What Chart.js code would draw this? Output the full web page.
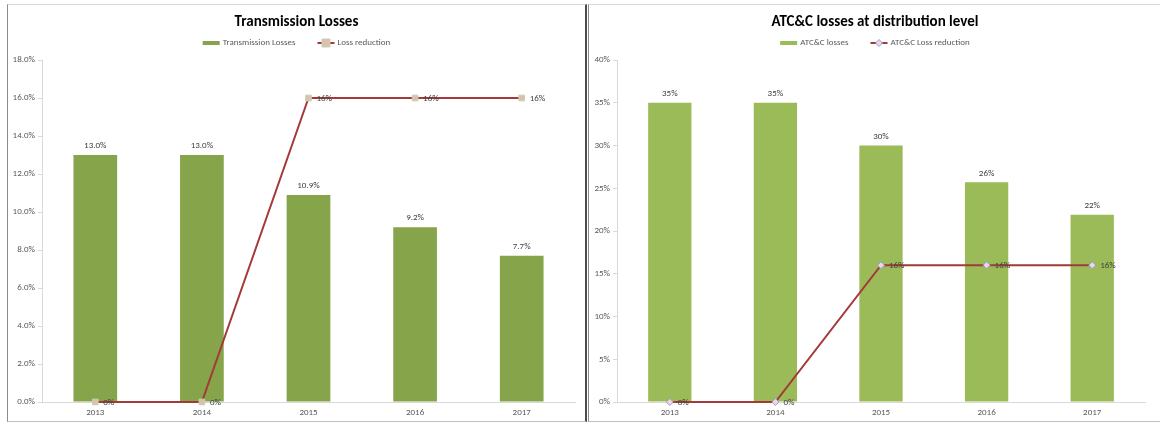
<!DOCTYPE html>
<html>
<head>
<meta charset="utf-8">
<script src="https://cdn.jsdelivr.net/npm/chart.js@4/dist/chart.umd.min.js"></script>
<style>
    html, body { margin: 0; padding: 0; background: #fff; }
    body { width: 1160px; height: 423px; position: relative; overflow: hidden; }
    .panel { position: absolute; top: 4px; height: 416px; background: #fff;
             border-top: 1px solid #d9d9d9; border-bottom: 1px solid #bfbfbf; }
    #left { left: 7px; width: 577px; border-left: 1px solid #8c8c8c; border-right: 2px solid #4d4d4d; }
    #right { left: 588px; width: 572px; border-left: 1px solid #8c8c8c; }
    canvas { display: block; }
</style>
</head>
<body>
<div class="panel" id="left"><canvas id="transChart"></canvas></div>
<div class="panel" id="right"><canvas id="atcChart"></canvas></div>

<script>
// 数据
const years = ['2013', '2014', '2015', '2016', '2017'];
const transmissionLosses = [13.0, 13.0, 10.9, 9.2, 7.7];
const lossReduction = [0, 0, 16, 16, 16];
const atcLosses = [35, 35, 30, 25.7, 21.9];
const atcLossReduction = [0, 0, 16, 16, 16];

const transAxis = { max: 18, step: 2 };
const atcAxis = { max: 40, step: 5 };

const FONT = "Carlito, 'Liberation Sans Narrow', 'Liberation Sans', sans-serif";
const TEXT = '#595959';

// 标题与图例
const headerPlugin = {
    id: 'header',
    afterDraw(chart, args, opts) {
        const ctx = chart.ctx;
        const cx = chart.width / 2;
        ctx.save();
        ctx.fillStyle = '#000';
        ctx.font = 'bold 15px ' + FONT;
        ctx.textAlign = 'center';
        ctx.textBaseline = 'middle';
        ctx.fillText(opts.title, cx, 17);

        // 图例：柱在前，折线在后
        ctx.font = '9px ' + FONT;
        ctx.textAlign = 'left';
        const sw = 17, gap = 3, between = 22;
        const items = chart.data.datasets
            .slice()
            .sort((a, b) => b.order - a.order)
            .map(ds => ({ ds, w: sw + gap + ctx.measureText(ds.label).width }));
        const total = items.reduce((s, it) => s + it.w, 0) + between * (items.length - 1);
        let x = cx - total / 2;
        const y = 38;
        items.forEach(({ ds, w }) => {
            if (ds.type === 'line') {
                ctx.strokeStyle = ds.borderColor;
                ctx.lineWidth = 2;
                ctx.beginPath();
                ctx.moveTo(x, y);
                ctx.lineTo(x + sw, y);
                ctx.stroke();
                drawMarker(ctx, ds, x + sw / 2, y);
            } else {
                ctx.fillStyle = ds.backgroundColor;
                ctx.fillRect(x, y - 2, sw, 4);
            }
            ctx.fillStyle = TEXT;
            ctx.fillText(ds.label, x + sw + gap, y);
            x += w + between;
        });
        ctx.restore();
    }
};

function drawMarker(ctx, ds, x, y) {
    ctx.save();
    ctx.fillStyle = ds.pointBackgroundColor;
    ctx.strokeStyle = ds.pointBorderColor;
    ctx.lineWidth = 1;
    const r = ds.pointRadius;
    ctx.beginPath();
    if (ds.pointStyle === 'rectRot') {
        ctx.moveTo(x, y - r); ctx.lineTo(x + r, y); ctx.lineTo(x, y + r); ctx.lineTo(x - r, y);
        ctx.closePath();
    } else {
        ctx.rect(x - r, y - r, r * 2, r * 2);
    }
    ctx.fill();
    ctx.stroke();
    ctx.restore();
}

// 数据标签
const valueLabelPlugin = {
    id: 'valueLabels',
    afterDatasetsDraw(chart) {
        const ctx = chart.ctx;
        ctx.save();
        ctx.font = '9px ' + FONT;
        ctx.fillStyle = '#404040';
        ctx.textBaseline = 'middle';
        chart.data.datasets.forEach((ds, i) => {
            const meta = chart.getDatasetMeta(i);
            meta.data.forEach((el, j) => {
                const txt = ds.labelFmt(ds.data[j]);
                if (ds.type === 'line') {
                    ctx.textAlign = 'left';
                    ctx.fillText(txt, el.x + 8, el.y + 1);
                } else {
                    ctx.textAlign = 'center';
                    ctx.fillText(txt, el.x, el.y - 9);
                }
            });
        });
        ctx.restore();
    }
};

function makeChart(id, opts) {
    const ctx = document.getElementById(id).getContext('2d');
    return new Chart(ctx, {
        data: {
            labels: years,
            datasets: [{
                type: 'line',
                label: opts.lineLabel,
                data: opts.lineData,
                borderColor: '#a33a38',
                borderWidth: 2,
                pointStyle: opts.pointStyle,
                pointRadius: opts.pointRadius,
                pointBackgroundColor: opts.pointFill,
                pointBorderColor: opts.pointBorder,
                pointBorderWidth: 1,
                tension: 0,
                clip: false,
                order: 0,
                labelFmt: v => v.toFixed(0) + '%'
            }, {
                type: 'bar',
                label: opts.barLabel,
                data: opts.barData,
                backgroundColor: opts.barColor,
                barPercentage: 0.41,
                categoryPercentage: 1,
                order: 1,
                labelFmt: opts.barFmt
            }]
        },
        options: {
            responsive: false,
            animation: false,
            layout: { padding: { left: 0, right: opts.padRight, top: 55, bottom: 0 } },
            plugins: {
                legend: { display: false },
                tooltip: { enabled: false },
                header: { title: opts.title }
            },
            scales: {
                x: {
                    grid: { display: false, drawTicks: false },
                    border: { color: '#d9d9d9', width: 1 },
                    ticks: { color: TEXT, font: { family: FONT, size: 9 }, padding: 5, maxRotation: 0 },
                    afterFit: s => { s.height = 19; }
                },
                y: {
                    min: 0,
                    max: opts.axis.max,
                    grid: { drawOnChartArea: false, drawTicks: true, tickLength: 4, color: '#d9d9d9' },
                    border: { color: '#d9d9d9', width: 1 },
                    ticks: {
                        stepSize: opts.axis.step,
                        color: TEXT,
                        font: { family: FONT, size: 9 },
                        padding: 3,
                        callback: opts.tickFmt
                    },
                    afterFit: s => { s.width = opts.axisWidth; }
                }
            }
        },
        plugins: [headerPlugin, valueLabelPlugin]
    });
}

document.addEventListener('DOMContentLoaded', () => {
    const tc = document.getElementById('transChart');
    tc.width = 577; tc.height = 416;
    const ac = document.getElementById('atcChart');
    ac.width = 572; ac.height = 416;

    makeChart('transChart', {
        title: 'Transmission Losses',
        barLabel: 'Transmission Losses',
        lineLabel: 'Loss reduction',
        barData: transmissionLosses,
        lineData: lossReduction,
        barColor: '#86a44a',
        pointStyle: 'rect',
        pointRadius: 4,
        pointFill: '#dcbfb2',
        pointBorder: '#c8d2ae',
        axis: transAxis,
        axisWidth: 34,
        padRight: 10,
        tickFmt: v => v.toFixed(1) + '%',
        barFmt: v => v.toFixed(1) + '%'
    });

    makeChart('atcChart', {
        title: 'ATC&C losses at distribution level',
        barLabel: 'ATC&C losses',
        lineLabel: 'ATC&C Loss reduction',
        barData: atcLosses,
        lineData: atcLossReduction,
        barColor: '#9bbb59',
        pointStyle: 'rectRot',
        pointRadius: 3.5,
        pointFill: '#f2d6dc',
        pointBorder: '#8d9fd8',
        axis: atcAxis,
        axisWidth: 28,
        padRight: 16,
        tickFmt: v => v.toFixed(0) + '%',
        barFmt: v => v.toFixed(0) + '%'
    });
});
</script>
</body>
</html>
